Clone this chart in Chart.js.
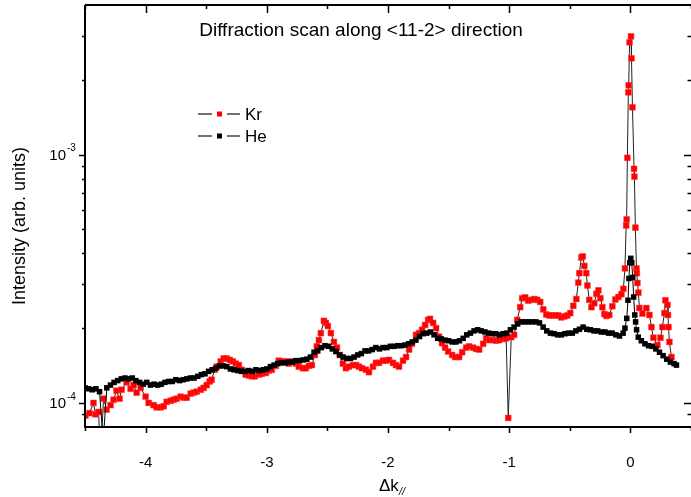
<!DOCTYPE html>
<html>
<head>
<meta charset="utf-8">
<script src="https://cdn.jsdelivr.net/npm/chart.js@4/dist/chart.umd.min.js"></script>
<style>
  html, body { margin: 0; padding: 0; background: #fff; overflow: hidden; }
  canvas { display: block; }
</style>
</head>
<body>
<canvas id="c" width="691" height="497"></canvas>
<script>
// Intensities are listed in units of 1e-4 (arb. units)
const UNIT = 1e-4;

// He scan: momentum transfer (Δk//) and intensity
const heK = [
  -4.50, -4.47, -4.44, -4.41, -4.38, -4.35, -4.32, -4.29, -4.26, -4.23,
  -4.20, -4.17, -4.14, -4.11, -4.08, -4.05, -4.02, -3.99, -3.96, -3.93,
  -3.90, -3.87, -3.84, -3.81, -3.78, -3.75, -3.72, -3.69, -3.66, -3.63,
  -3.60, -3.57, -3.54, -3.51, -3.48, -3.45, -3.42, -3.39, -3.36, -3.33,
  -3.30, -3.27, -3.24, -3.21, -3.18, -3.15, -3.12, -3.09, -3.06, -3.03,
  -3.00, -2.97, -2.94, -2.91, -2.88, -2.85, -2.82, -2.79, -2.76, -2.73,
  -2.70, -2.67, -2.64, -2.61, -2.58, -2.55, -2.52, -2.49, -2.46, -2.43,
  -2.40, -2.37, -2.34, -2.31, -2.28, -2.25, -2.22, -2.19, -2.16, -2.13,
  -2.10, -2.07, -2.04, -2.01, -1.98, -1.95, -1.92, -1.89, -1.86, -1.83,
  -1.80, -1.77, -1.74, -1.71, -1.68, -1.65, -1.62, -1.59, -1.56, -1.53,
  -1.50, -1.47, -1.44, -1.41, -1.38, -1.35, -1.32, -1.29, -1.26, -1.23,
  -1.20, -1.17, -1.14, -1.11, -1.08, -1.05, -1.02, -0.99, -0.96, -0.93,
  -0.90, -0.87, -0.84, -0.81, -0.78, -0.75, -0.72, -0.69, -0.66, -0.63,
  -0.60, -0.57, -0.54, -0.51, -0.48, -0.45, -0.42, -0.39, -0.36, -0.33,
  -0.30, -0.27, -0.24, -0.21, -0.18, -0.15, -0.12, -0.09, -0.06,
  -0.045, -0.030, -0.020, -0.012, -0.005, 0.003, 0.011, 0.019, 0.027, 0.036,
  0.043, 0.051, 0.065, 0.09, 0.12, 0.15, 0.18, 0.21, 0.24, 0.27,
  0.30, 0.33, 0.36, 0.38
];
const heI = [
  1.15, 1.14, 1.13, 1.14, 1.11, 0.70, 1.15, 1.18, 1.21, 1.23,
  1.25, 1.26, 1.25, 1.26, 1.23, 1.21, 1.19, 1.21, 1.18, 1.19,
  1.18, 1.19, 1.21, 1.22, 1.22, 1.24, 1.23, 1.24, 1.25, 1.26,
  1.26, 1.28, 1.30, 1.31, 1.34, 1.36, 1.38, 1.41, 1.41, 1.40,
  1.37, 1.36, 1.35, 1.34, 1.34, 1.35, 1.34, 1.36, 1.35, 1.36,
  1.37, 1.40, 1.42, 1.44, 1.45, 1.45, 1.46, 1.46, 1.48, 1.48,
  1.49, 1.50, 1.53, 1.60, 1.62, 1.67, 1.70, 1.69, 1.65, 1.61,
  1.56, 1.53, 1.51, 1.51, 1.53, 1.56, 1.58, 1.62, 1.62, 1.64,
  1.67, 1.65, 1.67, 1.67, 1.69, 1.69, 1.70, 1.70, 1.71, 1.73,
  1.76, 1.79, 1.85, 1.90, 1.91, 1.93, 1.88, 1.82, 1.81, 1.79,
  1.78, 1.76, 1.76, 1.78, 1.82, 1.88, 1.91, 1.95, 1.97, 1.95,
  1.93, 1.91, 1.90, 1.90, 1.88, 1.90, 1.91, 1.97, 2.02, 2.08,
  2.12, 2.12, 2.12, 2.12, 2.12, 2.10, 2.02, 1.95, 1.91, 1.90,
  1.88, 1.88, 1.90, 1.91, 1.91, 1.95, 1.98, 2.02, 1.98, 1.97,
  1.95, 1.95, 1.93, 1.93, 1.91, 1.91, 1.88, 1.86, 1.91,
  2.00, 2.19, 2.59, 3.17, 3.67, 3.82, 3.67, 3.20, 2.67, 2.26,
  2.12, 1.97, 1.84, 1.78, 1.73, 1.70, 1.69, 1.65, 1.60, 1.55,
  1.50, 1.46, 1.44, 1.42
];

// Kr scan: momentum transfer (Δk//) and intensity
const krK = [
  -4.496, -4.463, -4.430, -4.413, -4.388, -4.372, -4.347, -4.322, -4.289, -4.264,
  -4.240, -4.215, -4.198, -4.157, -4.124, -4.099, -4.074, -4.041, -4.000, -3.975,
  -3.934, -3.909, -3.876, -3.851, -3.826, -3.793, -3.769, -3.744, -3.711, -3.686,
  -3.661, -3.628, -3.603, -3.579, -3.545, -3.521, -3.496, -3.471, -3.455, -3.430,
  -3.413, -3.380, -3.355, -3.331, -3.306, -3.281, -3.256, -3.231, -3.207, -3.174,
  -3.149, -3.124, -3.099, -3.066, -3.041, -3.008, -2.983, -2.959, -2.926, -2.901,
  -2.876, -2.843, -2.818, -2.793, -2.760, -2.736, -2.702, -2.678, -2.653, -2.628,
  -2.603, -2.587, -2.570, -2.554, -2.529, -2.512, -2.496, -2.471, -2.446, -2.421,
  -2.397, -2.372, -2.347, -2.322, -2.289, -2.264, -2.240, -2.215, -2.182, -2.157,
  -2.124, -2.099, -2.074, -2.041, -2.017, -1.992, -1.959, -1.934, -1.909, -1.876,
  -1.851, -1.826, -1.802, -1.769, -1.744, -1.719, -1.694, -1.669, -1.653, -1.628,
  -1.603, -1.579, -1.554, -1.529, -1.504, -1.471, -1.446, -1.413, -1.388, -1.355,
  -1.331, -1.298, -1.273, -1.248, -1.215, -1.190, -1.165, -1.132, -1.107, -1.083,
  -1.050, -1.025, -1.008, -0.983, -0.959, -0.934, -0.909, -0.893, -0.868, -0.843,
  -0.818, -0.793, -0.769, -0.744, -0.719, -0.694, -0.669, -0.645, -0.620, -0.595,
  -0.570, -0.545, -0.521, -0.496, -0.471, -0.446, -0.430, -0.421, -0.405, -0.393,
  -0.380, -0.364, -0.355, -0.339, -0.322, -0.298, -0.281, -0.264, -0.248, -0.231,
  -0.215, -0.198, -0.174, -0.149, -0.124, -0.099, -0.074, -0.058, -0.045, -0.035,
  -0.031, -0.025, -0.017, -0.014, -0.007, 0.005, 0.009, 0.017, 0.030, 0.033,
  0.041, 0.050, 0.053, 0.058, 0.066, 0.074, 0.099, 0.132, 0.157, 0.174,
  0.190, 0.223, 0.248, 0.264, 0.281, 0.289, 0.306, 0.310, 0.314, 0.322,
  0.339
];
const krI = [
  0.89, 0.91, 1.00, 0.90, 0.92, 0.60, 1.04, 0.94, 0.98, 1.03,
  1.12, 1.04, 1.13, 1.21, 1.14, 1.18, 1.10, 1.15, 1.06, 1.00,
  0.98, 0.96, 0.96, 0.97, 1.01, 1.02, 1.03, 1.04, 1.06, 1.05,
  1.05, 1.09, 1.10, 1.11, 1.13, 1.15, 1.18, 1.22, 1.24, 1.36,
  1.40, 1.47, 1.51, 1.51, 1.49, 1.47, 1.44, 1.42, 1.36, 1.30,
  1.29, 1.28, 1.28, 1.30, 1.31, 1.32, 1.35, 1.36, 1.41, 1.48,
  1.47, 1.47, 1.44, 1.47, 1.44, 1.40, 1.38, 1.38, 1.41, 1.42,
  1.56, 1.69, 1.79, 1.91, 2.14, 2.10, 2.04, 1.91, 1.76, 1.67,
  1.56, 1.44, 1.38, 1.40, 1.42, 1.42, 1.40, 1.38, 1.36, 1.33,
  1.40, 1.45, 1.45, 1.48, 1.48, 1.49, 1.45, 1.42, 1.40, 1.48,
  1.53, 1.64, 1.73, 1.88, 1.91, 1.97, 2.06, 2.16, 2.18, 2.10,
  2.00, 1.85, 1.74, 1.67, 1.61, 1.56, 1.53, 1.53, 1.60, 1.67,
  1.69, 1.67, 1.65, 1.64, 1.73, 1.82, 1.79, 1.79, 1.78, 1.79,
  1.81, 1.82, 0.87, 1.84, 1.88, 2.16, 2.43, 2.64, 2.66, 2.58,
  2.60, 2.62, 2.60, 2.55, 2.38, 2.27, 2.25, 2.25, 2.25, 2.25,
  2.21, 2.23, 2.25, 2.30, 2.46, 2.62, 3.05, 3.33, 3.85, 3.89,
  3.56, 3.33, 2.97, 2.60, 2.43, 2.52, 2.75, 2.84, 2.64, 2.43,
  2.28, 2.24, 2.26, 2.45, 2.61, 2.67, 2.74, 2.88, 3.48, 5.18,
  5.48, 9.70, 17.8, 19.0, 28.3, 29.9, 24.4, 15.5, 8.76, 8.15,
  5.08, 3.48, 3.33, 3.04, 2.78, 2.41, 2.29, 2.41, 2.26, 2.02,
  1.83, 1.71, 1.83, 2.02, 2.30, 2.59, 2.48, 2.26, 2.02, 1.76,
  1.53
];

// Axis ticks
const xMajorTicks = [-4, -3, -2, -1, 0];
const xMinorTicks = [-4.5, -3.5, -2.5, -1.5, -0.5, 0.5];
const yMajorTicks = [1e-4, 1e-3];
const yMajorExp = ['-4', '-3'];
const yMinorTicks = [9e-5, 2e-4, 3e-4, 4e-4, 5e-4, 6e-4, 7e-4, 8e-4, 9e-4, 2e-3, 3e-3];

const TITLE = 'Diffraction scan along <11-2> direction';
const Y_TITLE = 'Intensity (arb. units)';
const SERIES = [
  { name: 'Kr', color: '#ff0000' },
  { name: 'He', color: '#000000' }
];

const FONT = '"Liberation Sans", Arial, Helvetica, sans-serif';

const toPoints = (ks, vs) => ks.map((k, i) => ({ x: k, y: vs[i] * UNIT }));

// Frame, ticks, labels, title and legend in the style of the plot
const framePlugin = {
  id: 'frame',
  afterDraw(chart) {
    const { ctx, chartArea: a, scales: { x, y } } = chart;
    ctx.save();
    ctx.strokeStyle = '#000';
    ctx.fillStyle = '#000';

    // axis lines: left, bottom, top
    ctx.lineWidth = 2;
    ctx.beginPath();
    ctx.moveTo(a.left, a.top);
    ctx.lineTo(a.left, a.bottom);
    ctx.lineTo(a.right, a.bottom);
    ctx.moveTo(a.left, a.top);
    ctx.lineTo(a.right, a.top);
    ctx.stroke();

    // tick marks
    ctx.lineWidth = 1.5;
    ctx.beginPath();
    xMajorTicks.forEach(v => {
      const px = Math.round(x.getPixelForValue(v)) + 0.5;
      ctx.moveTo(px, a.bottom); ctx.lineTo(px, a.bottom + 6);
      ctx.moveTo(px, a.top); ctx.lineTo(px, a.top + 8);
    });
    xMinorTicks.forEach(v => {
      const px = Math.round(x.getPixelForValue(v)) + 0.5;
      ctx.moveTo(px, a.bottom); ctx.lineTo(px, a.bottom + 4);
      ctx.moveTo(px, a.top); ctx.lineTo(px, a.top + 4);
    });
    yMajorTicks.forEach(v => {
      const py = Math.round(y.getPixelForValue(v)) + 0.5;
      ctx.moveTo(a.left - 6, py); ctx.lineTo(a.left, py);
      ctx.moveTo(a.right - 7, py); ctx.lineTo(a.right, py);
    });
    yMinorTicks.forEach(v => {
      const py = Math.round(y.getPixelForValue(v)) + 0.5;
      ctx.moveTo(a.left - 3, py); ctx.lineTo(a.left, py);
      ctx.moveTo(a.right - 3.5, py); ctx.lineTo(a.right, py);
    });
    ctx.stroke();

    // x tick labels
    ctx.font = '15px ' + FONT;
    ctx.textAlign = 'center';
    ctx.textBaseline = 'middle';
    xMajorTicks.forEach(v => {
      ctx.fillText(String(v), x.getPixelForValue(v), a.bottom + 36);
    });

    // y tick labels: 10 with a raised exponent
    yMajorTicks.forEach((v, i) => {
      const py = y.getPixelForValue(v);
      ctx.font = '15px ' + FONT;
      ctx.textAlign = 'right';
      ctx.textBaseline = 'middle';
      ctx.fillText('10', 66, py + 1);
      ctx.font = '10px ' + FONT;
      ctx.textAlign = 'left';
      ctx.fillText(yMajorExp[i], 67, py - 6);
    });

    // title inside the plot
    ctx.font = '19px ' + FONT;
    ctx.textAlign = 'center';
    ctx.textBaseline = 'middle';
    ctx.fillText(TITLE, 361, 31);

    // axis titles
    ctx.font = '18px ' + FONT;
    ctx.save();
    ctx.translate(20, 226);
    ctx.rotate(-Math.PI / 2);
    ctx.fillText(Y_TITLE, 0, 0);
    ctx.restore();

    ctx.font = '17px ' + FONT;
    ctx.textAlign = 'left';
    ctx.fillText('\u0394k', 379, 486);
    ctx.font = 'italic 11px ' + FONT;
    ctx.fillText('//', 399, 492);

    // legend
    SERIES.forEach((s, i) => {
      const ly = 114 + i * 22;
      ctx.strokeStyle = '#444';
      ctx.lineWidth = 1.5;
      ctx.beginPath();
      ctx.moveTo(198, ly); ctx.lineTo(212, ly);
      ctx.moveTo(227, ly); ctx.lineTo(240, ly);
      ctx.stroke();
      ctx.fillStyle = s.color;
      ctx.fillRect(217, ly - 2.5, 5, 5);
      ctx.fillStyle = '#000';
      ctx.font = '17px ' + FONT;
      ctx.textAlign = 'left';
      ctx.textBaseline = 'middle';
      ctx.fillText(s.name, 245, ly + 1);
    });

    ctx.restore();
  }
};

new Chart(document.getElementById('c'), {
  type: 'scatter',
  data: {
    datasets: [
      {
        label: 'He',
        data: toPoints(heK, heI),
        showLine: true,
        borderColor: '#000',
        borderWidth: 1,
        pointStyle: 'rect',
        pointRadius: 3.9,
        pointBackgroundColor: '#000',
        pointBorderColor: '#000',
        pointBorderWidth: 0,
        order: 0
      },
      {
        label: 'Kr',
        data: toPoints(krK, krI),
        showLine: true,
        borderColor: '#222',
        borderWidth: 1,
        pointStyle: 'rect',
        pointRadius: 4.1,
        pointBackgroundColor: '#ff0000',
        pointBorderColor: '#ff3030',
        pointBorderWidth: 0.5,
        order: 1
      }
    ]
  },
  options: {
    responsive: false,
    animation: false,
    devicePixelRatio: 1,
    layout: { autoPadding: false, padding: { left: 85, top: 5, right: 0, bottom: 70 } },
    plugins: {
      legend: { display: false },
      tooltip: { enabled: false },
      title: { display: false }
    },
    scales: {
      x: { type: 'linear', min: -4.5, max: 0.5, display: false },
      y: { type: 'logarithmic', min: 8e-5, max: 4e-3, display: false }
    }
  },
  plugins: [framePlugin]
});
</script>
</body>
</html>
